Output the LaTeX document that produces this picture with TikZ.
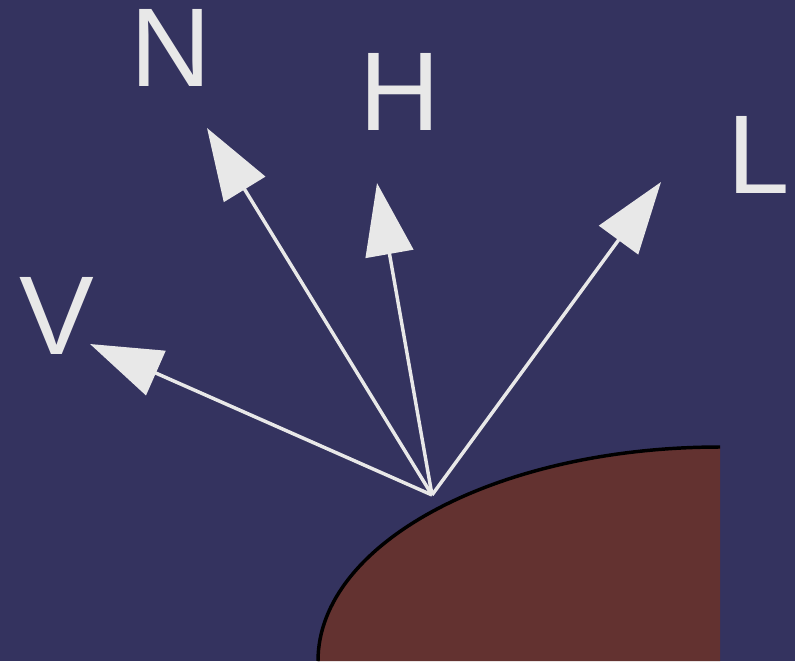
\documentclass[tikz,border=0pt]{standalone}
\usepackage{fontspec}
\setmainfont{Liberation Sans}
\usepackage{xcolor}
\usetikzlibrary{positioning, arrows.meta, calc}
\definecolor{skyblue}{HTML}{34335F}
\definecolor{surface}{HTML}{633230}
\definecolor{ray}{HTML}{E8E8E8}

\begin{document}
\begin{tikzpicture}[x=0.75pt, y=-0.75pt,
  vec/.style={draw=ray, line width=2.6pt, -{Triangle[length=54pt, width=36pt]}},
  lbl/.style={text=ray, inner sep=0pt, font=\fontsize{84}{84}\selectfont}]
  \useasboundingbox[fill=skyblue] (0,0) rectangle (795,661);
  % surface
  \fill[surface] (318,661) arc[start angle=180, end angle=270, x radius=402, y radius=214] -- (720,661) -- cycle;
  \draw[black, line width=2.6pt] (318,661) arc[start angle=180, end angle=270, x radius=402, y radius=214];
  % vectors
  \coordinate (p) at (432,495);
  \coordinate (vtip) at (90,344);
  \coordinate (ntip) at (207,128);
  \coordinate (htip) at (377,183);
  \coordinate (ltip) at (661,182);
  \draw[vec] (p) -- (vtip);
  \draw[vec] (p) -- (ntip);
  \draw[vec] (p) -- (htip);
  \draw[vec] (p) -- (ltip);
  \node[lbl] (v) at (57,316) {V};
  \node[lbl] (n) at (171,48) {N};
  \node[lbl] (h) at (400,92) {H};
  \node[lbl] (l) at (759,155) {L};
\end{tikzpicture}
\end{document}
